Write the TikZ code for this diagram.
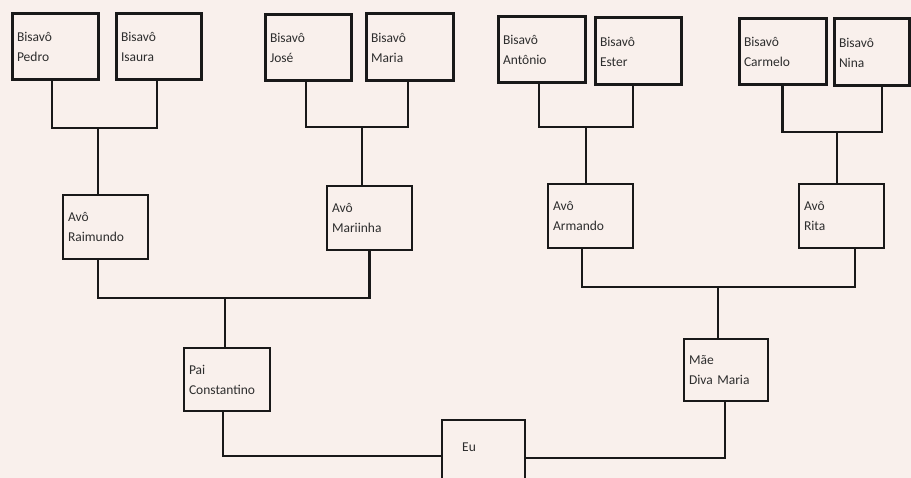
\documentclass[tikz,border=0pt]{standalone}
\usepackage{fontspec}
\setmainfont{Carlito}
\definecolor{bgc}{RGB}{249,240,236}
\definecolor{linec}{RGB}{25,25,25}
\definecolor{txtc}{RGB}{45,45,45}
\newcommand\famnode[7]{%
  \pgfmathsetmacro\fw{#5-#3}\pgfmathsetmacro\fh{#6-#4}%
  \pgfmathsetmacro\ftw{#5-#3-10}%
  \pgfmathsetmacro\fcx{(#3+#5)/2}\pgfmathsetmacro\fcy{(#4+#6)/2}%
  \node[#1, minimum width=\fw pt, minimum height=\fh pt, text width=\ftw pt] (#2) at (\fcx,\fcy) {#7};}
\begin{document}
\begin{tikzpicture}[x=1pt,y=-1pt,
  box/.style={draw=linec, fill=bgc, rectangle, inner xsep=5pt, inner ysep=0pt, align=left,
    text=txtc, font=\fontsize{13.5}{20}\selectfont},
  bisbox/.style={box, line width=3pt},
  avobox/.style={box, line width=1.9pt},
  conn/.style={draw=linec, line width=2.9pt}]
\useasboundingbox (0,0) rectangle (911,478);
\clip (0,0) rectangle (911,478);
\fill[bgc] (0,0) rectangle (911,478);
% great-grandparents
\famnode{bisbox}{pedro}{12}{14}{98}{80}{Bisavô\\Pedro}
\famnode{bisbox}{isaura}{116}{14}{201}{80}{Bisavô\\Isaura}
\famnode{bisbox}{jose}{265}{15}{351}{81}{Bisavô\\José}
\famnode{bisbox}{maria}{366}{14}{453}{81}{Bisavô\\Maria}
\famnode{bisbox}{antonio}{498}{17}{585}{83}{Bisavô\\Antônio}
\famnode{bisbox}{ester}{595}{18}{681}{85}{Bisavô\\Ester}
\famnode{bisbox}{carmelo}{739}{19}{826}{85}{Bisavô\\Carmelo}
\famnode{bisbox}{nina}{834}{19}{909}{86}{Bisavô\\Nina}
% grandparents
\famnode{avobox}{raimundo}{63}{195}{148}{259}{Avô\\Raimundo}
\famnode{avobox}{mariinha}{327}{186}{412}{250}{Avô\\Mariinha}
\famnode{avobox}{armando}{548}{184}{633}{248}{Avô\\Armando}
\famnode{avobox}{rita}{799}{184}{884}{248}{Avô\\Rita}
% parents
\famnode{avobox}{pai}{184}{348}{270}{411}{Pai\\Constantino}
\famnode{avobox}{mae}{684}{339}{768}{401}{Mãe\\Diva~Maria}
% me
\node[avobox, minimum width=83pt, minimum height=72pt, anchor=north west,
  label={[anchor=base west, inner sep=0pt, xshift=21pt, yshift=-33pt, text=txtc,
  font=\fontsize{13.5}{20}\selectfont]north west:Eu}] (eu) at (441,419) {};
% junctions
\coordinate (j1) at (98,128);
\coordinate (j2) at (362,127);
\coordinate (j3) at (586,127);
\coordinate (j4) at (837,132);
\coordinate (j5) at (225,298);
\coordinate (j6) at (718,287);
% connectors
\draw[conn] ([xshift=-3pt]pedro.south) |- (j1) -| ([xshift=-1.5pt]isaura.south);
\draw[conn] (j1) -- (j1 |- raimundo.north);
\draw[conn] ([xshift=-2pt]jose.south) |- (j2) -| ([xshift=-1.5pt]maria.south);
\draw[conn] (j2) -- (j2 |- mariinha.north);
\draw[conn] ([xshift=-2.5pt]antonio.south) |- (j3) -| ([xshift=-5pt]ester.south);
\draw[conn] (j3) -- (j3 |- armando.north);
\draw[conn] (carmelo.south) |- (j4) -| ([xshift=10.5pt]nina.south);
\draw[conn] (j4) -- (j4 |- rita.north);
\draw[conn] ([xshift=-7.5pt]raimundo.south) |- (j5) -| (mariinha.south);
\draw[conn] (j5) -- (j5 |- pai.north);
\draw[conn] ([xshift=-8.5pt]armando.south) |- (j6) -| ([xshift=13.5pt]rita.south);
\draw[conn] (j6) -- (j6 |- mae.north);
\draw[conn] ([xshift=-4pt]pai.south) |- (eu.west);
\draw[conn] ([xshift=-1pt]mae.south) |- ([yshift=-2pt]eu.east);
\end{tikzpicture}
\end{document}
